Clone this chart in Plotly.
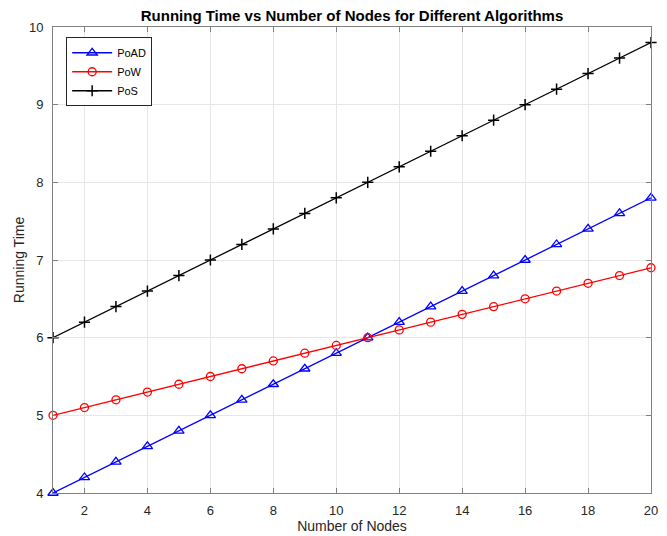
import plotly.graph_objects as go

nodes = list(range(1, 21))
poad = [4.0, 4.2, 4.4, 4.6, 4.8, 5.0, 5.2, 5.4, 5.6, 5.8, 6.0, 6.2, 6.4, 6.6, 6.8, 7.0, 7.2, 7.4, 7.6, 7.8]
pow_ = [5.0, 5.1, 5.2, 5.3, 5.4, 5.5, 5.6, 5.7, 5.8, 5.9, 6.0, 6.1, 6.2, 6.3, 6.4, 6.5, 6.6, 6.7, 6.8, 6.9]
pos = [6.0, 6.2, 6.4, 6.6, 6.8, 7.0, 7.2, 7.4, 7.6, 7.8, 8.0, 8.2, 8.4, 8.6, 8.8, 9.0, 9.2, 9.4, 9.6, 9.8]

FONT = "Liberation Sans, Arial"

fig = go.Figure()
fig.add_trace(go.Scatter(x=nodes, y=poad, name="PoAD", mode="lines+markers",
                         line=dict(color="#0000ff", width=1.3),
                         marker=dict(symbol="triangle-up-open", size=9, color="#0000ff", line=dict(width=1.3)),
                         cliponaxis=False))
fig.add_trace(go.Scatter(x=nodes, y=pow_, name="PoW", mode="lines+markers",
                         line=dict(color="#ff0000", width=1.3),
                         marker=dict(symbol="circle-open", size=8, color="#ff0000", line=dict(width=1.3)),
                         cliponaxis=False))
fig.add_trace(go.Scatter(x=nodes, y=pos, name="PoS", mode="lines+markers",
                         line=dict(color="#000000", width=1.3),
                         marker=dict(symbol="cross-thin-open", size=8, color="#000000", line=dict(width=1.5, color="#000000")),
                         cliponaxis=False))

axis_common = dict(showgrid=True, gridcolor="#e6e6e6", gridwidth=1, zeroline=False,
                   showline=True, linecolor="#808080", linewidth=1, mirror="ticks",
                   ticks="inside", ticklen=5, tickcolor="#808080", automargin=False,
                   tickfont=dict(family=FONT, size=13, color="#262626"))

fig.update_layout(
    width=667, height=536,
    margin=dict(l=53, r=16, t=27, b=43),
    paper_bgcolor="white", plot_bgcolor="white",
    title=dict(text="<b>Running Time vs Number of Nodes for Different Algorithms</b>",
               x=0.5, xref="paper", xanchor="center", y=0.970, yref="container", yanchor="middle",
               font=dict(family=FONT, size=15, color="black")),
    xaxis=dict(range=[1, 20], tickvals=[2, 4, 6, 8, 10, 12, 14, 16, 18, 20],
               ticklabelstandoff=5,
               title=dict(text="Number of Nodes", standoff=4,
                          font=dict(family=FONT, size=14, color="#262626")),
               **axis_common),
    yaxis=dict(range=[4, 10], tickvals=[4, 5, 6, 7, 8, 9, 10],
               ticklabelstandoff=6,
               title=dict(text="Running Time", standoff=1,
                          font=dict(family=FONT, size=14, color="#262626")),
               **axis_common),
    legend=dict(x=0.022, y=0.978, xanchor="left", yanchor="top",
                bgcolor="white", bordercolor="#262626", borderwidth=1,
                font=dict(family=FONT, size=11, color="black"),
                tracegroupgap=0, itemwidth=40),
    showlegend=True,
)

fig.write_html("out.html")
